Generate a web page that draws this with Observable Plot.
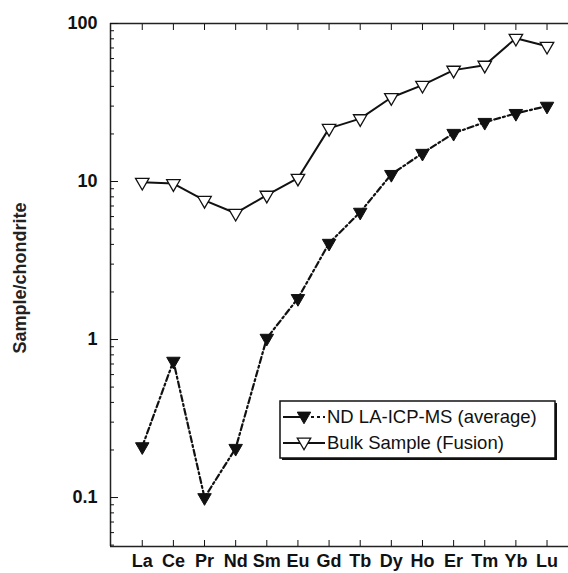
<!DOCTYPE html>
<html>
<head>
<meta charset="utf-8">
<script src="https://cdn.jsdelivr.net/npm/d3@7"></script>
<script src="https://cdn.jsdelivr.net/npm/@observablehq/plot@0.6"></script>
<style>
  html, body { margin: 0; padding: 0; background: #fff; }
  #wrap { position: relative; width: 568px; height: 573px; overflow: hidden; }
  #legend { position: absolute; left: 279px; top: 400px; }
</style>
</head>
<body>
<div id="wrap"></div>
<script>
const elements = ["La","Ce","Pr","Nd","Sm","Eu","Gd","Tb","Dy","Ho","Er","Tm","Yb","Lu"];
const ndLaIcpMs = [0.21, 0.73, 0.10, 0.205, 1.02, 1.82, 4.07, 6.4, 11.1, 15.1, 20.2, 23.7, 27.0, 30.0];
const bulkFusion = [9.9, 9.7, 7.6, 6.3, 8.2, 10.5, 21.7, 25.0, 34.0, 40.7, 50.7, 54.5, 80.7, 71.8];
const seriesNames = ["ND LA-ICP-MS (average)", "Bulk Sample (Fusion)"];
const yMajorTicks = [0.1, 1, 10, 100];
const yLabel = "Sample/chondrite";
const yDomain = [0.049, 100];
const xDomain = [-1.02, 13.69];

const minorTicks = [];
for (const d of [0.01, 0.1, 1, 10]) for (let k = 2; k <= 9; k++) { const v = +(d * k).toPrecision(3); if (v >= yDomain[0] && v <= yDomain[1]) minorTicks.push(v); }

const ndData = elements.map((e, i) => ({i, e, v: ndLaIcpMs[i]}));
const bulkData = elements.map((e, i) => ({i, e, v: bulkFusion[i]}));
const idx = elements.map((_, i) => i);

const font = "'Liberation Sans', Arial, sans-serif";

const chart = Plot.plot({
  width: 568,
  height: 573,
  marginLeft: 110,
  marginRight: 0,
  marginTop: 23,
  marginBottom: 27,
  style: {fontFamily: font, color: "#111", background: "#fff"},
  x: {type: "linear", domain: xDomain},
  y: {type: "log", domain: yDomain},
  marks: [
    // frame lines: left, top, bottom
    Plot.ruleX([xDomain[0]], {stroke: "#222", strokeWidth: 1.5}),
    Plot.ruleY(yDomain, {stroke: "#222", strokeWidth: 1.5}),
    // y ticks (inward)
    Plot.axisY({ticks: yMajorTicks, tickSize: -8, tickFormat: () => "", label: null, strokeWidth: 1}),
    Plot.axisY({ticks: minorTicks, tickSize: -4, tickFormat: () => "", label: null, strokeWidth: 1}),
    Plot.axisY({ticks: yMajorTicks, tickSize: 0, tickPadding: 13, tickFormat: d => String(d), label: null, fontSize: 18, fontWeight: "bold"}),
    // x ticks bottom and top (inward)
    Plot.axisX({anchor: "bottom", ticks: idx, tickSize: -6, tickFormat: () => "", label: null}),
    Plot.axisX({anchor: "top", ticks: idx, tickSize: -6, tickFormat: () => "", label: null}),
    Plot.axisX({anchor: "bottom", ticks: idx, tickSize: 0, tickPadding: 8, tickFormat: i => elements[i], label: null, fontSize: 18, fontWeight: "bold"}),
    // y label
    Plot.text([yLabel], {frameAnchor: "left", textAnchor: "middle", rotate: -90, dx: -90, dy: -7, text: d => d, fontSize: 18, fontWeight: "bold", fill: "#222"}),
    // series
    Plot.line(bulkData, {x: "i", y: "v", stroke: "#111", strokeWidth: 2}),
    Plot.line(ndData, {x: "i", y: "v", stroke: "#111", strokeWidth: 2.2, strokeDasharray: "6,3,2,3"}),
    Plot.dot(bulkData, {x: "i", y: "v", symbol: "triangle", rotate: 180, r: 5, fill: "#fff", stroke: "#111", strokeWidth: 1.3}),
    Plot.dot(ndData, {x: "i", y: "v", symbol: "triangle", rotate: 180, r: 5, fill: "#111", stroke: "#111", strokeWidth: 1})
  ]
});

const wrap = document.getElementById("wrap");
wrap.appendChild(chart);

// legend
const lw = 280, lh = 62;
const leg = d3.create("svg").attr("id", "legend").attr("width", lw).attr("height", lh)
  .style("font-family", font);
leg.append("rect").attr("x", 3).attr("y", 3).attr("width", lw - 5).attr("height", lh - 5).attr("fill", "#111");
leg.append("rect").attr("x", 1).attr("y", 1).attr("width", lw - 5).attr("height", lh - 5).attr("fill", "#fff").attr("stroke", "#111").attr("stroke-width", 1.5);
const tri = (cx, cy, r) => {
  const y = Math.sqrt(Math.PI * r * r / (Math.sqrt(3) * 3));
  return `M${cx},${cy + 2 * y}L${cx - Math.sqrt(3) * y},${cy - y}L${cx + Math.sqrt(3) * y},${cy - y}Z`;
};
// entry 1
let y1 = 17;
leg.append("line").attr("x1", 4).attr("x2", 22).attr("y1", y1).attr("y2", y1).attr("stroke", "#111").attr("stroke-width", 2);
leg.append("line").attr("x1", 26).attr("x2", 46).attr("y1", y1).attr("y2", y1).attr("stroke", "#111").attr("stroke-width", 2).attr("stroke-dasharray", "3,3");
leg.append("path").attr("d", tri(25, y1 - 1, 5)).attr("fill", "#111").attr("stroke", "#111");
leg.append("text").attr("x", 48).attr("y", y1 + 6).attr("font-size", 18.5).attr("fill", "#111").text(seriesNames[0]);
// entry 2
let y2 = 43;
leg.append("line").attr("x1", 4).attr("x2", 46).attr("y1", y2).attr("y2", y2).attr("stroke", "#111").attr("stroke-width", 2);
leg.append("path").attr("d", tri(25, y2 - 1, 5)).attr("fill", "#fff").attr("stroke", "#111").attr("stroke-width", 1.3);
leg.append("text").attr("x", 48).attr("y", y2 + 6).attr("font-size", 18.5).attr("fill", "#111").text(seriesNames[1]);
wrap.appendChild(leg.node());
</script>
</body>
</html>
